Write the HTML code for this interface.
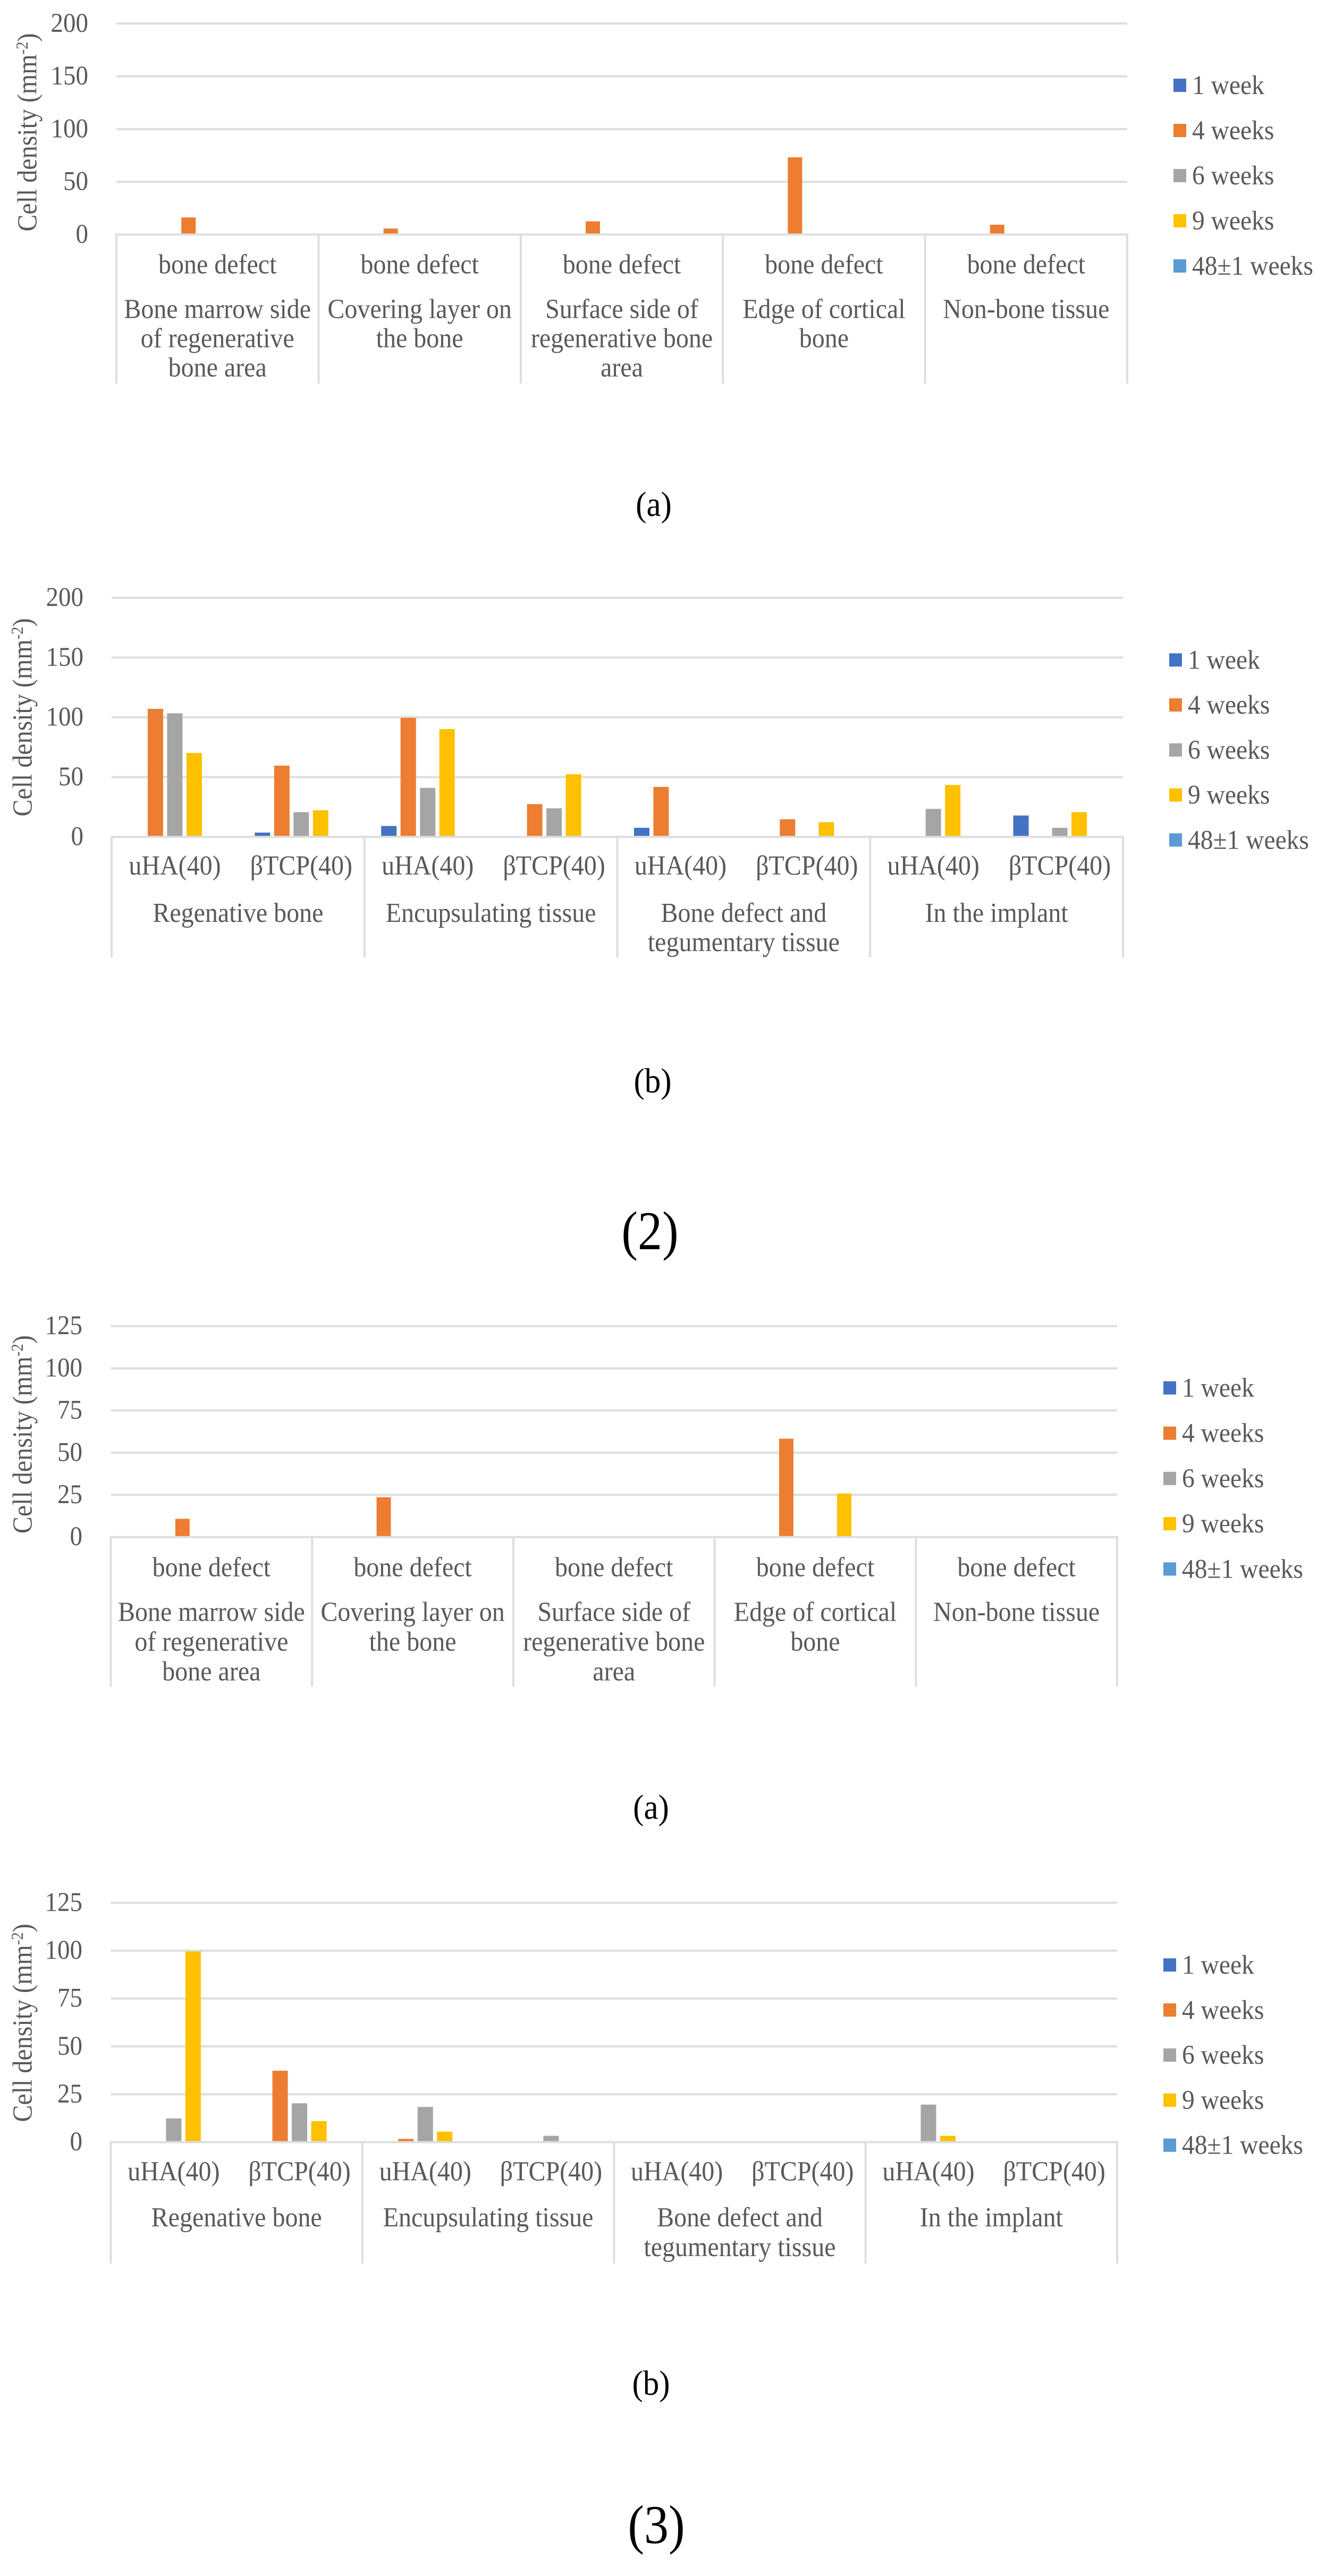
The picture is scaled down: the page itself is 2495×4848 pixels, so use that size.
<!DOCTYPE html>
<html lang="en">
<head>
<meta charset="utf-8">
<title>Cell density charts</title>
<style>
  html, body { margin: 0; padding: 0; background: #fff; }
  svg { display: block; }
  text { font-family: "Liberation Serif", serif; fill: #595959; }
  .grid { stroke: #dedede; stroke-width: 4; }
  .s0 { fill: #4472c4; } .s1 { fill: #ed7d31; } .s2 { fill: #a5a5a5; } .s3 { fill: #ffc000; } .s4 { fill: #5b9bd5; }
  text.panel { fill: #000; }
</style>
</head>
<body>
<svg id="figure" xmlns="http://www.w3.org/2000/svg" width="2495" height="4848" viewBox="0 0 2495 4848">
  <rect width="2495" height="4848" fill="#fff"/>

  <text font-size="48" text-anchor="middle" transform="translate(68.3,249) scale(1.09,1) rotate(-90)">Cell density (mm<tspan dy="-15" font-size="29">-2</tspan><tspan dy="15">)</tspan></text>
  <text font-size="48" text-anchor="middle" transform="translate(59.3,1350) scale(1.09,1) rotate(-90)">Cell density (mm<tspan dy="-15" font-size="29">-2</tspan><tspan dy="15">)</tspan></text>
  <text font-size="48" text-anchor="middle" transform="translate(59.3,2699.5) scale(1.09,1) rotate(-90)">Cell density (mm<tspan dy="-15" font-size="29">-2</tspan><tspan dy="15">)</tspan></text>
  <text font-size="48" text-anchor="middle" transform="translate(59.3,3807) scale(1.09,1) rotate(-90)">Cell density (mm<tspan dy="-15" font-size="29">-2</tspan><tspan dy="15">)</tspan></text>

  <text class="panel" font-size="61" text-anchor="middle" transform="translate(1230,971) scale(1,1.07)">(a)</text>
  <text class="panel" font-size="61" text-anchor="middle" transform="translate(1228,2056) scale(1,1.07)">(b)</text>
  <text class="panel" font-size="92" text-anchor="middle" transform="translate(1223,2351) scale(1,1.12)">(2)</text>
  <text class="panel" font-size="61" text-anchor="middle" transform="translate(1225,3423) scale(1,1.07)">(a)</text>
  <text class="panel" font-size="61" text-anchor="middle" transform="translate(1225,4507) scale(1,1.07)">(b)</text>
  <text class="panel" font-size="92" text-anchor="middle" transform="translate(1235,4786) scale(1,1.12)">(3)</text>
</svg>

<script>
const legendLabels = ['1 week', '4 weeks', '6 weeks', '9 weeks', '48\u00b11 weeks'];

const siteSubLabels = ['bone defect', 'bone defect', 'bone defect', 'bone defect', 'bone defect'];
const siteGroupLabels = [
  ['Bone marrow side', 'of regenerative', 'bone area'],
  ['Covering layer on', 'the bone'],
  ['Surface side of', 'regenerative bone', 'area'],
  ['Edge of cortical', 'bone'],
  ['Non-bone tissue']
];
const materialSubLabels = ['uHA(40)', '\u03b2TCP(40)', 'uHA(40)', '\u03b2TCP(40)', 'uHA(40)', '\u03b2TCP(40)', 'uHA(40)', '\u03b2TCP(40)'];
const materialGroupLabels = [
  ['Regenative bone'],
  ['Encupsulating tissue'],
  ['Bone defect and', 'tegumentary tissue'],
  ['In the implant']
];

const ticks200 = [0, 50, 100, 150, 200];
const ticks125 = [0, 25, 50, 75, 100, 125];

const a2Week1 = [0, 0, 0, 0, 0];
const a2Week4 = [16.2, 5.7, 12.5, 73.2, 9.3];
const a2Week6 = [0, 0, 0, 0, 0];
const a2Week9 = [0, 0, 0, 0, 0];
const a2Week48 = [0, 0, 0, 0, 0];

const b2Week1 = [0, 3.6, 9.1, 0, 7.6, 0, 0, 17.9];
const b2Week4 = [107.1, 59.6, 99.6, 27.4, 41.8, 14.7, 0, 0];
const b2Week6 = [103.4, 20.7, 41, 23.9, 0, 0, 23.4, 7.6];
const b2Week9 = [70.2, 22.3, 90.2, 52.4, 0, 12.3, 43.4, 20.7];
const b2Week48 = [0, 0, 0, 0, 0, 0, 0, 0];

const a3Week1 = [0, 0, 0, 0, 0];
const a3Week4 = [10.8, 23.6, 0, 58.3, 0];
const a3Week6 = [0, 0, 0, 0, 0];
const a3Week9 = [0, 0, 0, 25.8, 0];
const a3Week48 = [0, 0, 0, 0, 0];

const b3Week1 = [0, 0, 0, 0, 0, 0, 0, 0];
const b3Week4 = [0, 37.3, 1.7, 0, 0, 0, 0, 0];
const b3Week6 = [12.4, 20.3, 18.4, 3.3, 0, 0, 19.6, 0];
const b3Week9 = [99.6, 11, 5.5, 0, 0, 0, 3.3, 0];
const b3Week48 = [0, 0, 0, 0, 0, 0, 0, 0];

const SVG_NS = 'http://www.w3.org/2000/svg';
const figure = document.getElementById('figure');
const STRETCH = 1.07;

function makeNode(tag, attrs) {
  const node = document.createElementNS(SVG_NS, tag);
  for (const key in attrs) node.setAttribute(key, attrs[key]);
  figure.appendChild(node);
  return node;
}

function makeText(content, x, y, size, anchor) {
  const node = makeNode('text', {
    'font-size': size,
    'text-anchor': anchor,
    transform: 'translate(' + x + ',' + y + ') scale(1,' + STRETCH + ')'
  });
  node.textContent = content;
  return node;
}

function drawChart(cfg, ticks, subLabels, groupLabels, series) {
  const yScale = function (v) { return cfg.y0 - (v / cfg.max) * (cfg.y0 - cfg.yTop); };
  const subWidth = (cfg.right - cfg.left) / subLabels.length;
  const groupSpan = subLabels.length / groupLabels.length;
  const groupWidth = subWidth * groupSpan;
  const barX = function (catIndex, seriesIndex) {
    const center = cfg.left + subWidth * (catIndex + 0.5);
    return center + (seriesIndex - (series.length - 1) / 2) * cfg.pitch - cfg.barW / 2;
  };

  ticks.forEach(function (t) {
    if (t !== 0) {
      const line = makeNode('line', { class: 'grid', x1: cfg.left, x2: cfg.right, y1: yScale(t), y2: yScale(t) });
      
      
    }
    const label = makeText(String(t), cfg.tickX, yScale(t) + 15.5, 47, 'end');
    
    
  });

  series.forEach(function (values, s) {
    values.forEach(function (v, c) {
      const bar = makeNode('rect', {
        class: 's' + s,
        x: barX(c, s),
        y: yScale(v),
        width: cfg.barW,
        height: Math.max(0, cfg.y0 - yScale(v))
      });
      
      
    });
  });

  const axis = makeNode('line', { class: 'grid', x1: cfg.left - 2, x2: cfg.right + 2, y1: cfg.y0, y2: cfg.y0 });
  
  

  for (let g = 0; g <= groupLabels.length; g++) {
    const sepX = cfg.left + groupWidth * g;
    const sep = makeNode('line', { class: 'grid', x1: sepX, x2: sepX, y1: cfg.y0, y2: cfg.axisBottom });
    
    
  }

  subLabels.forEach(function (text, i) {
    const label = makeText(text, cfg.left + subWidth * (i + 0.5), cfg.y0 + cfg.subOffset, 48, 'middle');
    
    
  });

  groupLabels.forEach(function (lines, g) {
    lines.forEach(function (text, k) {
      const label = makeText(text, cfg.left + groupWidth * (g + 0.5), cfg.y0 + cfg.groupOffset + k * cfg.lineStep, 48, 'middle');
      
      
    });
  });

  legendLabels.forEach(function (text, i) {
    const cy = cfg.legendY + i * cfg.legendStep;
    const swatch = makeNode('rect', { class: 's' + i, x: cfg.legendX, y: cy - 12.5, width: 24, height: 25 });
    
    
    const label = makeText(text, cfg.legendX + 35, cy + 16.5, 47.5, 'start');
    
    
  });
}

drawChart(
  { id: 'chart-2a', left: 219, right: 2121, y0: 441.4, yTop: 44.3, max: 200, axisBottom: 722, tickX: 166, barW: 27, pitch: 54.5,
    subOffset: 73, groupOffset: 157, lineStep: 55, legendX: 2208, legendY: 160.5, legendStep: 85 },
  ticks200, siteSubLabels, siteGroupLabels, [a2Week1, a2Week4, a2Week6, a2Week9, a2Week48]
);
drawChart(
  { id: 'chart-2b', left: 210, right: 2113, y0: 1575, yTop: 1125, max: 200, axisBottom: 1802, tickX: 157, barW: 29, pitch: 36.5,
    subOffset: 71, groupOffset: 160, lineStep: 55, legendX: 2200, legendY: 1242, legendStep: 84.7 },
  ticks200, materialSubLabels, materialGroupLabels, [b2Week1, b2Week4, b2Week6, b2Week9, b2Week48]
);
drawChart(
  { id: 'chart-3a', left: 208.5, right: 2102, y0: 2892.7, yTop: 2495.7, max: 125, axisBottom: 3174, tickX: 155, barW: 27, pitch: 54.5,
    subOffset: 74, groupOffset: 158, lineStep: 56, legendX: 2189, legendY: 2612, legendStep: 85.2 },
  ticks125, siteSubLabels, siteGroupLabels, [a3Week1, a3Week4, a3Week6, a3Week9, a3Week48]
);
drawChart(
  { id: 'chart-3b', left: 208.5, right: 2102, y0: 4031.5, yTop: 3581, max: 125, axisBottom: 4260, tickX: 155, barW: 29, pitch: 36.5,
    subOffset: 72, groupOffset: 158.5, lineStep: 56, legendX: 2189, legendY: 3698, legendStep: 84.8 },
  ticks125, materialSubLabels, materialGroupLabels, [b3Week1, b3Week4, b3Week6, b3Week9, b3Week48]
);
</script>
</body>
</html>
